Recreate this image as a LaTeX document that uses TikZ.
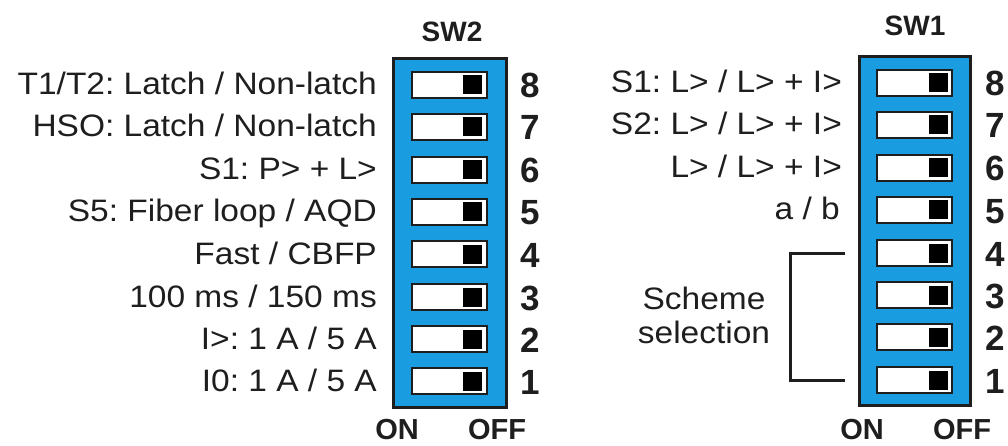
\documentclass[tikz,border=0pt]{standalone}
\usepackage{fontspec}
\setmainfont{Liberation Sans}
\definecolor{swblue}{RGB}{25,157,224}
\definecolor{ink}{RGB}{30,30,30}

\begin{document}
\frenchspacing
\begin{tikzpicture}[x=1pt,y=-1pt,
  lbl/.style={anchor=base east,inner sep=0pt,text=ink,font=\fontsize{31}{34}\selectfont\addfontfeatures{FakeStretch=1.08}},
  num/.style={anchor=base,inner sep=0pt,text=ink,font=\fontsize{35}{38}\selectfont\bfseries},
  head/.style={anchor=base,inner sep=0pt,text=ink,font=\fontsize{28}{30}\selectfont\bfseries},
  foot/.style={anchor=base,inner sep=0pt,text=ink,font=\fontsize{29}{30}\selectfont\bfseries},
  body/.style={draw=ink,line width=3pt,fill=swblue},
  slot/.style={draw=ink,line width=2.5pt,fill=white},
  knob/.style={fill=black}]
\useasboundingbox (0,0) rectangle (1008,446);

% SW2
\node[head] (t2) at (452,42) {SW2};
\draw[body] (393,59) rectangle (506,407);
\draw[slot] (412,72) rectangle (487,98);   \fill[knob] (463,75.5) rectangle (482,94.5);
\draw[slot] (412,114) rectangle (487,140); \fill[knob] (463,117.5) rectangle (482,136.5);
\draw[slot] (412,157) rectangle (487,183); \fill[knob] (463,160.5) rectangle (482,179.5);
\draw[slot] (412,199) rectangle (487,225); \fill[knob] (463,202.5) rectangle (482,221.5);
\draw[slot] (412,241) rectangle (487,267); \fill[knob] (463,244.5) rectangle (482,263.5);
\draw[slot] (412,284) rectangle (487,310); \fill[knob] (463,287.5) rectangle (482,306.5);
\draw[slot] (412,326) rectangle (487,352); \fill[knob] (463,329.5) rectangle (482,348.5);
\draw[slot] (412,368) rectangle (487,394); \fill[knob] (463,371.5) rectangle (482,390.5);

\node[lbl] (a8) at (377,95) {T1/T2: Latch / Non-latch};
\node[lbl] (a7) at (377,137) {HSO: Latch / Non-latch};
\node[lbl] (a6) at (377,180) {S1: P> + L>};
\node[lbl] (a5) at (377,222) {S5: Fiber loop / AQD};
\node[lbl] (a4) at (377,264) {Fast / CBFP};
\node[lbl] (a3) at (377,307) {100 ms / 150 ms};
\node[lbl] (a2) at (377,349) {I>: 1 A / 5 A};
\node[lbl] (a1) at (377,391) {I0: 1 A / 5 A};

\node[num] (m8) at (530,98) {8};
\node[num] (m7) at (530,140) {7};
\node[num] (m6) at (530,183) {6};
\node[num] (m5) at (530,225) {5};
\node[num] (m4) at (530,267) {4};
\node[num] (m3) at (530,310) {3};
\node[num] (m2) at (530,352) {2};
\node[num] (m1) at (530,394) {1};

\node[foot] (on2) at (397,439) {ON};
\node[foot] (off2) at (497,439) {OFF};

% SW1
\node[head] (t1) at (915,36) {SW1};
\draw[body] (859,57) rectangle (970,405);
\draw[slot] (877,70) rectangle (952,96);   \fill[knob] (929,73.5) rectangle (948,92.5);
\draw[slot] (877,112) rectangle (952,138); \fill[knob] (929,115.5) rectangle (948,134.5);
\draw[slot] (877,155) rectangle (952,181); \fill[knob] (929,158.5) rectangle (948,177.5);
\draw[slot] (877,197) rectangle (952,223); \fill[knob] (929,200.5) rectangle (948,219.5);
\draw[slot] (877,240) rectangle (952,266); \fill[knob] (929,243.5) rectangle (948,262.5);
\draw[slot] (877,282) rectangle (952,308); \fill[knob] (929,285.5) rectangle (948,304.5);
\draw[slot] (877,324) rectangle (952,350); \fill[knob] (929,327.5) rectangle (948,346.5);
\draw[slot] (877,367) rectangle (952,393); \fill[knob] (929,370.5) rectangle (948,389.5);

\node[lbl] (b8) at (842,93) {S1: L> / L> + I>};
\node[lbl] (b7) at (842,135) {S2: L> / L> + I>};
\node[lbl] (b6) at (842,178) {L> / L> + I>};
\node[lbl] (b5) at (840,220) {a / b};
\node[lbl,anchor=center,align=center] (sch) at (704,315) {Scheme\\selection};
\draw[ink,line width=3pt] (845,253) -- (790,253) -- (790,380) -- (845,380);

\node[num] (n8) at (995,96) {8};
\node[num] (n7) at (995,138) {7};
\node[num] (n6) at (995,181) {6};
\node[num] (n5) at (995,223) {5};
\node[num] (n4) at (995,266) {4};
\node[num] (n3) at (995,308) {3};
\node[num] (n2) at (995,350) {2};
\node[num] (n1) at (995,393) {1};

\node[foot] (on1) at (862,439) {ON};
\node[foot] (off1) at (962,439) {OFF};
\end{tikzpicture}
\end{document}
